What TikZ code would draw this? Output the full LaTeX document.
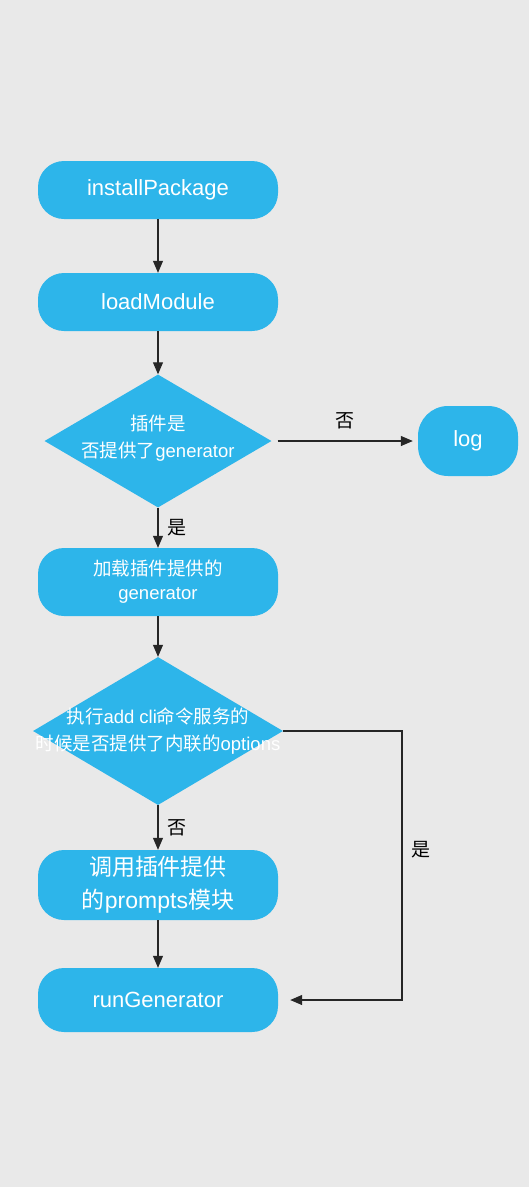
\documentclass[tikz,border=0pt]{standalone}
\usepackage{fontspec}
\setmainfont{Liberation Sans}
\newfontfamily\cjk{Noto Sans CJK SC}
\usetikzlibrary{shapes.geometric,arrows.meta}

\definecolor{bg}{HTML}{E9E9E9}
\definecolor{boxblue}{HTML}{2DB5EA}

\begin{document}
\begin{tikzpicture}[x=1pt,y=-1pt,
    stepbox/.style={fill=boxblue, text=white, rounded corners=26pt,
        minimum width=240pt, minimum height=58pt, inner sep=0pt,
        align=center, font=\fontsize{22}{24}\selectfont},
    choice/.style={diamond, fill=boxblue, inner sep=0pt},
    txt/.style={text=white, align=center, font=\fontsize{18.5}{27}\selectfont},
    lab/.style={font=\cjk\fontsize{19}{20}\selectfont},
    arr/.style={-{Triangle[length=12pt,width=10pt]}, line width=1.1pt, draw=black!85}]
    % background
    \fill[bg] (0,0) rectangle (529,1187);
    \useasboundingbox (0,0) rectangle (529,1187);

    % steps
    \node[stepbox] (install) at (158,190) {installPackage};
    \node[stepbox] (load) at (158,302) {loadModule};
    \node[choice, minimum width=227pt, minimum height=133pt,
        label={[txt, yshift=3pt]center:{{\cjk 插件是}\\{\cjk 否提供了}generator}}] (ask1) at (158,441) {};
    \node[stepbox, minimum width=100pt, minimum height=70pt, rounded corners=30pt] (log) at (468,441) {log};
    \node[stepbox, minimum height=68pt, font=\fontsize{18.5}{24}\selectfont] (loadgen) at (158,582) {{\cjk 加载插件提供的}\\generator};
    \node[choice, minimum width=250pt, minimum height=148pt,
        label={[txt]center:{{\cjk 执行}add cli{\cjk 命令服务的}\\{\cjk 时候是否提供了内联的}options}}] (ask2) at (158,731) {};
    \node[stepbox, minimum height=70pt, font=\fontsize{23}{33}\selectfont] (prompts) at (158,885) {{\cjk 调用插件提供}\\{\cjk 的}prompts{\cjk 模块}};
    \node[stepbox, minimum height=64pt] (run) at (158,1000) {runGenerator};

    % arrows
    \draw[arr] (install) -- (load);
    \draw[arr] (load) -- (ask1);
    \draw[arr, shorten <=6pt, shorten >=5pt] (ask1.east) -- node[lab, above=8pt] {否} (log.west);
    \draw[arr] (ask1) -- node[lab, right=6pt] {是} (loadgen);
    \draw[arr] (loadgen) -- (ask2);
    \draw[arr] (ask2) -- node[lab, right=6pt] {否} (prompts);
    \draw[arr] (prompts) -- (run);

    % yes loop
    \coordinate (bend) at (402,731);
    \draw[arr, shorten >=12pt] (ask2.east) -- (bend) |- node[lab, right=6pt, pos=0.22] {是} (run.east);
\end{tikzpicture}
\end{document}
